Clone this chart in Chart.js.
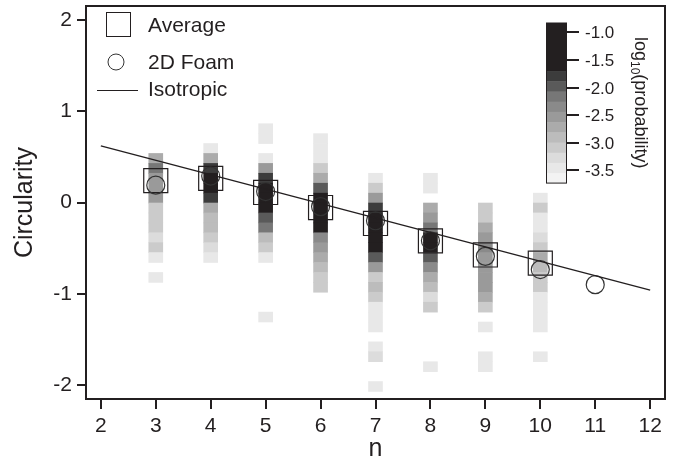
<!DOCTYPE html>
<html>
<head>
<meta charset="utf-8">
<script src="https://cdn.jsdelivr.net/npm/chart.js@4.4.1/dist/chart.umd.min.js"></script>
<style>
  html, body { margin: 0; padding: 0; background: #fff; }
  #wrap { width: 677px; height: 466px; }
</style>
</head>
<body>
<div id="wrap"><canvas id="circChart" width="677" height="466"></canvas></div>
<script>
// histogram columns (number of sides n)
const nColumns = [3, 4, 5, 6, 7, 8, 9, 10];
// circularity bin centres, top to bottom
const binCenters = [0.918, 0.809, 0.700, 0.592, 0.483, 0.374, 0.266, 0.157, 0.048, -0.060,
  -0.169, -0.278, -0.386, -0.495, -0.603, -0.712, -0.821, -0.929, -1.038, -1.147,
  -1.255, -1.364, -1.473, -1.581, -1.690, -1.799, -1.907, -2.016];
const binHeight = 0.1086;
// log10(probability) per bin, one row per column, null = empty bin
const logProb = [
  [null, null, null, null, -2.71, -2.16, -2.53, -2.53, -2.53, -3.08, -3.08, -3.08, -3.27, -3.08, -3.45, null, -3.45, null, null, null, null, null, null, null, null, null, null, null],
  [null, null, null, -3.45, -2.71, -1.79, -1.4, -1.3, -1.79, -2.71, -2.90, -2.90, -3.08, -3.27, -3.45, null, null, null, null, null, null, null, null, null, null, null, null, null],
  [null, -3.45, -3.45, null, -3.45, -2.53, -1.79, -1.4, -1.3, -1.4, -1.97, -2.16, -2.90, -3.08, -3.45, null, null, null, null, null, -3.45, null, null, null, null, null, null, null],
  [null, null, -3.45, -3.45, -3.45, -3.08, -2.71, -1.97, -1.4, -1.2, -1.2, -1.4, -2.34, -2.53, -2.71, -2.90, -3.08, -3.08, null, null, null, null, null, null, null, null, null, null],
  [null, null, null, null, null, null, -3.45, -3.08, -2.53, -1.79, -1.4, -1.3, -1.3, -1.5, -1.97, -2.53, -3.08, -2.90, -3.08, -3.45, -3.45, -3.45, null, -3.45, -3.27, null, null, -3.45],
  [null, null, null, null, null, null, -3.45, -3.45, null, -2.71, -2.53, -2.16, -1.4, -1.4, -1.97, -2.34, -2.71, -2.90, -3.27, -3.08, null, null, null, null, null, -3.45, null, null],
  [null, null, null, null, null, null, null, null, null, -3.08, -3.08, -2.71, -2.53, -2.34, -2.53, -2.53, -2.53, -2.53, -2.71, -3.08, null, -3.45, null, null, -3.45, -3.45, null, null],
  [null, null, null, null, null, null, null, null, -3.45, -3.08, -3.45, -3.45, -3.27, -3.08, -2.71, -2.90, -3.08, -3.08, -3.45, -3.45, -3.45, -3.45, null, null, -3.45, null, null, null]
];
// average circularity (squares)
const avgN = [3, 4, 5, 6, 7, 8, 9, 10];
const avgCirc = [0.24, 0.265, 0.11, -0.055, -0.23, -0.42, -0.575, -0.665];
// 2D foam (circles)
const foamN = [3, 4, 5, 6, 7, 8, 9, 10, 11];
const foamCirc = [0.19, 0.29, 0.12, -0.045, -0.20, -0.42, -0.59, -0.735, -0.90];
// isotropic line
const isoN = [2, 12];
const isoCirc = [0.62, -0.96];
// ticks
const xTicks = [2, 3, 4, 5, 6, 7, 8, 9, 10, 11, 12];
const yTicks = [-2, -1, 0, 1, 2];
const cbTicks = [-1.0, -1.5, -2.0, -2.5, -3.0, -3.5];

const INK = '#231f20';
const FONT = '"Liberation Sans", Arial, Helvetica, sans-serif';

// grey scale of the colour bar
const cbTop = -0.83, cbBottom = -3.73, cbBlackEdge = -1.7, cbStep = 0.185;
const cbGrays = ['#3c3c3c', '#5a5a5a', '#777777', '#8a8a8a', '#9a9a9a', '#ababab',
  '#bcbcbc', '#cbcbcb', '#dcdcdc', '#e8e8e8', '#f3f3f3'];
function grayFor(v) {
  if (v >= cbBlackEdge) return INK;
  const k = Math.floor((cbBlackEdge - v) / cbStep);
  return cbGrays[Math.min(k, cbGrays.length - 1)];
}

const cellData = [], cellColors = [];
nColumns.forEach((n, c) => {
  logProb[c].forEach((v, b) => {
    if (v === null) return;
    cellData.push({ x: n, y: [binCenters[b] - binHeight / 2, binCenters[b] + binHeight / 2] });
    cellColors.push(grayFor(v));
  });
});

const decor = {
  id: 'decor',
  afterDraw(chart) {
    const ctx = chart.ctx, ca = chart.chartArea;
    ctx.save();
    // frame
    ctx.strokeStyle = INK;
    ctx.lineWidth = 2;
    ctx.strokeRect(ca.left, ca.top, ca.right - ca.left, ca.bottom - ca.top);

    // legend
    const lx = ca.left;
    ctx.lineWidth = 1;
    ctx.strokeStyle = INK;
    ctx.strokeRect(lx + 20.5, ca.top + 6.5, 24, 24);
    ctx.beginPath();
    ctx.arc(lx + 30, ca.top + 56, 8, 0, Math.PI * 2);
    ctx.strokeStyle = '#333';
    ctx.stroke();
    ctx.beginPath();
    ctx.moveTo(lx + 11, ca.top + 84.5);
    ctx.lineTo(lx + 52, ca.top + 84.5);
    ctx.strokeStyle = INK;
    ctx.lineWidth = 1.2;
    ctx.stroke();
    ctx.fillStyle = INK;
    ctx.font = '21px ' + FONT;
    ctx.textBaseline = 'middle';
    ctx.textAlign = 'left';
    ctx.fillText('Average', lx + 62, ca.top + 20);
    ctx.fillText('2D Foam', lx + 62, ca.top + 57);
    ctx.fillText('Isotropic', lx + 62, ca.top + 84);

    // colour bar
    const bx = ca.right - 119, bw = 20, by = ca.top + 17, ppu = 55.2;
    const yOf = v => by + (cbTop - v) * ppu;
    ctx.fillStyle = INK;
    ctx.fillRect(bx, yOf(cbTop), bw, yOf(cbBlackEdge) - yOf(cbTop));
    cbGrays.forEach((g, k) => {
      const v0 = cbBlackEdge - k * cbStep;
      const v1 = Math.max(v0 - cbStep, cbBottom);
      ctx.fillStyle = g;
      ctx.fillRect(bx, yOf(v0), bw, yOf(v1) - yOf(v0) + 0.5);
    });
    ctx.strokeStyle = INK;
    ctx.lineWidth = 1;
    ctx.strokeRect(bx + 0.5, yOf(cbTop), bw, yOf(cbBottom) - yOf(cbTop));
    ctx.lineWidth = 2;
    ctx.fillStyle = INK;
    ctx.font = '17px ' + FONT;
    cbTicks.forEach(t => {
      const y = Math.round(yOf(t));
      ctx.beginPath();
      ctx.moveTo(bx + bw, y);
      ctx.lineTo(bx + bw + 13, y);
      ctx.stroke();
      ctx.fillText(t.toFixed(1), bx + bw + 19, y + 1);
    });
    // rotated colour-bar title with subscript
    ctx.translate(bx + 89, by + 14);
    ctx.rotate(Math.PI / 2);
    ctx.textBaseline = 'alphabetic';
    ctx.font = '18px ' + FONT;
    let tx = 0;
    ctx.fillText('log', tx, 0);
    tx += ctx.measureText('log').width;
    ctx.font = '12px ' + FONT;
    ctx.fillText('10', tx, 4);
    tx += ctx.measureText('10').width;
    ctx.font = '18px ' + FONT;
    ctx.fillText('(probability)', tx, 0);
    ctx.restore();
  }
};

new Chart(document.getElementById('circChart'), {
  type: 'bar',
  data: {
    datasets: [
      {
        type: 'line',
        label: 'Isotropic',
        data: isoN.map((n, i) => ({ x: n, y: isoCirc[i] })),
        borderColor: INK,
        borderWidth: 1.4,
        pointRadius: 0,
        fill: false,
        order: 1
      },
      {
        type: 'scatter',
        label: '2D Foam',
        data: foamN.map((n, i) => ({ x: n, y: foamCirc[i] })),
        pointStyle: 'circle',
        pointRadius: 9,
        borderColor: '#333',
        borderWidth: 1.2,
        backgroundColor: 'rgba(0,0,0,0)',
        order: 2
      },
      {
        type: 'scatter',
        label: 'Average',
        data: avgN.map((n, i) => ({ x: n, y: avgCirc[i] })),
        pointStyle: 'rect',
        pointRadius: 17,
        borderColor: INK,
        borderWidth: 1.2,
        backgroundColor: 'rgba(0,0,0,0)',
        order: 3
      },
      {
        type: 'bar',
        label: 'histogram',
        data: cellData,
        backgroundColor: cellColors,
        borderWidth: 0,
        barThickness: 14,
        grouped: false,
        order: 4
      }
    ]
  },
  options: {
    responsive: false,
    animation: false,
    devicePixelRatio: 1,
    layout: { autoPadding: false, padding: { top: 6, right: 12, left: 0, bottom: 0 } },
    plugins: { legend: { display: false }, tooltip: { enabled: false } },
    scales: {
      x: {
        type: 'linear',
        min: 1.73,
        max: 12.27,
        offset: false,
        afterBuildTicks: s => { s.ticks = xTicks.map(v => ({ value: v })); },
        afterFit: s => { s.height = 67; s.paddingLeft = 0; s.paddingRight = 0; },
        grid: { display: true, drawOnChartArea: false, drawTicks: true, tickLength: 10, lineWidth: 2, color: INK, offset: false },
        border: { display: true, color: INK, width: 2 },
        ticks: { color: INK, font: { family: FONT, size: 21 }, padding: 5, maxRotation: 0, callback: v => String(v) },
        title: { display: true, text: 'n', color: INK, font: { family: FONT, size: 25 }, padding: { top: 0, bottom: 2 } }
      },
      y: {
        type: 'linear',
        min: -2.153,
        max: 2.153,
        afterBuildTicks: s => { s.ticks = yTicks.map(v => ({ value: v })); },
        afterFit: s => { s.width = 86; s.paddingTop = 0; s.paddingBottom = 0; },
        grid: { display: true, drawOnChartArea: false, drawTicks: true, tickLength: 9, lineWidth: 2, color: INK },
        border: { display: true, color: INK, width: 2 },
        ticks: { color: INK, font: { family: FONT, size: 21 }, padding: 5, callback: v => String(v) },
        title: { display: true, text: 'Circularity', color: INK, font: { family: FONT, size: 25 }, padding: { top: 10, bottom: 0 } }
      }
    }
  },
  plugins: [decor]
});
</script>
</body>
</html>
